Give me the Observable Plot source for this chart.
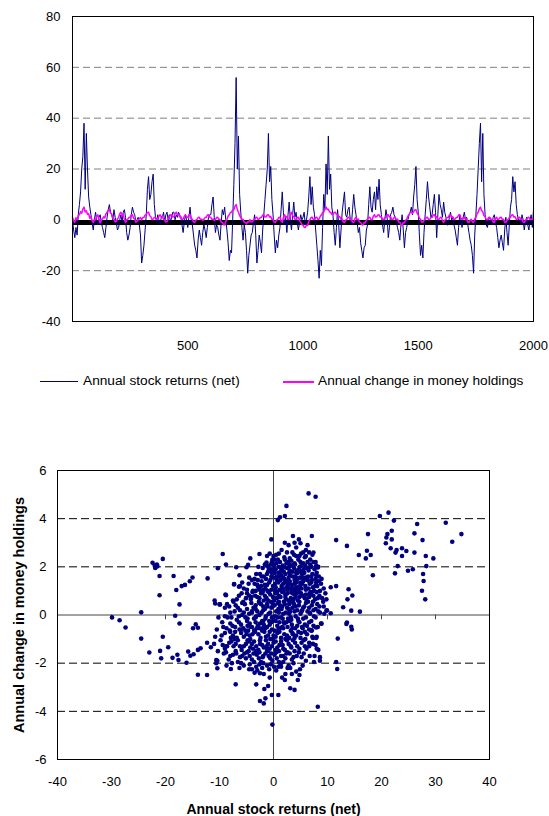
<!DOCTYPE html>
<html><head><meta charset="utf-8">
<script src="https://cdn.jsdelivr.net/npm/d3@7"></script>
<script src="https://cdn.jsdelivr.net/npm/@observablehq/plot@0.6"></script>
<style>
body{margin:0;background:#fff;font-family:Arial,"Liberation Sans",sans-serif;}
#wrap{position:relative;width:549px;height:816px;overflow:hidden;background:#fff;}
#top{position:absolute;left:0;top:0;}
#bottom{position:absolute;left:0;top:440px;}
#legend{position:absolute;left:0;top:373px;width:549px;height:16px;font-size:13.7px;color:#000;}
.sw{position:absolute;top:8px;height:0;}
.lt{position:absolute;top:0;white-space:nowrap;line-height:16px;}
</style></head>
<body>
<div id="wrap">
  <div id="top"></div>
  <div id="legend">
    <div class="sw" style="left:40px;width:38px;border-top:1.5px solid #000080"></div>
    <div class="lt" style="left:83px">Annual stock returns (net)</div>
    <div class="sw" style="left:283px;width:31px;border-top:2px solid #ff00ff"></div>
    <div class="lt" style="left:318px">Annual change in money holdings</div>
  </div>
  <div id="bottom"></div>
</div>
<script>
// ---- Top chart data (one value every 5 periods, t = 0..2000) ----
const periodStep = 5;
const stockReturns = [
  0,-4,-7,-3,-6,2,6,11,20,25,38,12,34,20,9,5,2,-1,-4,0,
  3,0,-2,1,2,-1,-3,-5,-7,-3,1,4,6,3,2,0,4,1,-1,-4,
  -3,0,2,-1,3,4,1,-5,-8,-6,-3,2,5,3,2,-1,0,1,-2,-6,
  -17,-14,-10,-4,2,12,17,8,10,15,18,6,1,-1,2,0,-2,1,1,3,
  -1,2,3,0,2,-1,1,3,3,0,2,1,3,2,1,-2,-5,-1,2,0,
  -3,1,5,0,-2,-6,-10,-12,-15,-8,-4,-7,-10,-5,-2,-4,-7,-3,1,2,
  2,6,9,1,-5,-2,-3,-6,-8,-1,4,2,5,0,-4,-9,-16,-12,-13,0,
  14,30,56,20,33,10,3,-3,-8,-2,-5,-12,-21,-14,-10,-6,-5,-1,2,-6,
  -17,-12,-6,-9,-13,-4,2,8,14,20,34,15,21,8,2,-6,-13,-8,-11,-6,
  -3,4,11,3,-2,1,-5,2,7,0,-4,2,7,1,3,-1,-4,-1,2,0,
  1,3,-2,0,3,9,17,6,13,5,2,-4,-10,-16,-23,-12,-18,-3,10,4,
  22,10,33,12,18,5,2,-5,-10,-3,4,-2,-11,-4,3,7,11,2,1,4,
  5,0,-2,4,10,5,2,-1,-5,-3,-9,-12,-15,-11,-10,-4,-2,6,13,5,
  3,8,11,4,13,8,16,6,2,-2,-5,0,4,1,-7,-3,2,3,5,2,
  1,-1,-3,-5,-8,-2,2,-4,-11,-5,-3,0,2,3,5,2,9,14,21,8,
  3,-6,-14,-10,-15,-5,2,8,15,9,5,1,2,6,10,3,-7,2,10,6,
  4,1,7,3,1,-2,-2,1,3,0,1,-2,-4,-7,-10,-3,2,0,-3,1,
  3,0,1,-2,-5,-8,-10,-14,-21,-6,2,10,20,30,38,15,34,10,2,-2,
  -3,0,1,-1,-2,1,2,-1,-3,-7,-11,-8,-6,-9,-12,-4,1,-5,-10,-2,
  5,8,17,11,15,6,2,0,0,-2,2,0,-4,-1,1,-2,-4,0,2,-3,
  4
];
const moneyChange = [
  1,-0.4,-1,0.8,0,1.6,2,3.2,2.6,4.2,5,3.1,3.6,2.2,2.4,0.6,1.3,-0.3,-1,0.2,
  0,1.4,2,0.1,-1.2,-0.2,0.4,1.2,0.7,2.3,3,3.8,4,2.6,2.3,0.6,0.4,-0.8,-0.6,0.3,
  1,2.4,3,1.9,2.2,0.1,-1,-0.1,0.3,0.9,1,1.9,2,0.6,0.3,-0.9,-0.6,-0.1,0.4,0.9,
  0,0.9,1,1.9,2,2.9,3,1.6,1.2,0.1,0.3,0.9,1,0.2,0.4,1.4,2,1.1,1.3,0.1,
  0,-0.9,-0.7,0.4,1,1.9,2,1.1,1.3,2.4,3,2.1,2.2,1.1,1.3,0.1,0.3,1.4,2,1.1,
  1,1.9,2,0.6,0.2,-0.9,-1,-0.1,0.2,0.9,1,0.1,0.3,-0.2,0.2,0.9,1,1.9,2,1.1,
  1,0.1,0.3,-0.2,0.1,0.9,1,0.1,0.2,-0.9,-1,-1.9,-2,-0.6,0.1,1.4,2,2.9,3,3.9,
  4,5.4,6,4.1,3,1.6,1,0.1,0.2,-0.9,-1,-1.6,-0.8,-0.9,0.1,-0.9,-0.8,-0.1,0.2,0.9,
  1,0.1,0.3,0.9,1,1.9,2,1.1,1.2,1.9,2,1.1,1.3,0.1,0.2,-0.9,-1,-0.1,0.1,0.9,
  1,-0.4,-1,0.9,2,1.1,1.3,0.1,0.2,1.9,3,1.6,1.2,0.1,0.3,0.9,1,-0.4,-1,-1.9,
  -2,-2.9,-3,-2.1,-2.2,-0.6,0.1,0.9,1,0.1,0.2,0.9,1,0.1,0.3,1.4,2,2.9,3,4.4,
  5,4.1,4.2,3.1,3,2.1,2.2,2.9,3,2.1,2.2,1.1,1.2,0.1,0.3,-0.9,-1,-0.1,0.2,0.9,
  1,0.1,0.2,-0.9,-1,0.4,1,0.1,0.3,-0.9,-1,-1.9,-2,-1.1,-1.2,-0.1,0.2,0.9,1,0.1,
  0,1.4,2,1.1,1.3,1.9,2,1.1,1.2,0.1,0.2,0.9,1,1.9,2,1.1,1.2,0.1,0.2,0.9,
  1,0.1,0.3,-0.9,-1,-1.9,-2,-1.1,-1.2,-0.1,0.2,1.4,2,2.9,3,2.6,3.2,3.9,4,2.6,
  2,0.6,0.2,-0.9,-1,-0.1,0.2,0.9,1,0.1,0.2,0.9,1,1.9,2,1.1,1.2,0.1,0.2,0.9,
  1,-0.4,-1,-0.1,0.2,0.9,1,1.9,2,1.1,1.2,0.1,0.3,0.9,1,1.9,2,0.6,0.2,0.9,
  1,0.1,0.3,-0.9,-1,-0.1,0.2,-0.9,-1,0.4,1,2.4,3,4.4,5,3.6,3.2,1.6,1.2,0.1,
  0,0.9,1,0.1,0.3,-0.9,-1,0.4,1,0.1,0.3,0.9,1,0.1,0.2,-0.9,-1,-0.1,0.2,0.9,
  1,1.9,2,1.1,1.2,0.1,0.3,0.9,1,0.1,0.2,-0.9,-1,-0.1,0.2,0.9,1,0.1,0.2,0.4,
  0
];
const topXTicks = [500, 1000, 1500, 2000];
const topYTicks = [-40, -20, 0, 20, 40, 60, 80];
const topGrid = [-20, 20, 40, 60];
const baselineLevel = [-1];

// ---- Scatter data: [annual stock return, annual change in money holdings] ----
const scatterCore = [
  [0.5,2.5],[1.5,2.7],[2.8,2.9],[3.5,2.6],[4.2,2.8],[5.5,2.6],[6.0,2.7],[2.0,2.4],[7.2,2.5],[4.8,2.45],[0.2,2.3],[3.0,2.35],[5.8,2.4],[6.8,2.3],[1.2,2.2],
  [-0.5,2.1],[0.8,2.3],[1.7,2.05],[2.4,2.15],[3.3,2.25],[4.0,2.1],[4.6,2.3],[5.2,2.05],[6.3,2.2],[7.0,2.0],[7.9,2.05],[-1.6,2.1],[-0.9,1.95],[2.9,2.0],[5.9,2.05],[8.3,2.0],[-2.8,2.0],[1.0,2.0],[3.8,1.95],
  [-3.5,1.5],[-2.5,1.7],[-1.8,1.6],[-1.0,1.8],[-0.3,1.75],[0.4,1.9],[1.0,1.6],[1.6,1.85],[2.2,1.7],[2.8,1.55],[3.5,1.8],[4.1,1.6],[4.7,1.9],[5.3,1.7],[5.9,1.55],[6.5,1.85],[7.2,1.7],[7.8,1.5],[8.4,1.6],[-4.5,1.55],[-2.0,1.95],[0.0,1.55],[2.5,1.95],[4.4,1.5],[6.1,1.95],[-1.4,1.5],[3.1,1.65],[5.6,1.5],[-2.9,1.45],[1.3,1.45],
  [-5.5,1.1],[-4.6,1.3],[-3.8,1.0],[-3.0,1.25],[-2.2,1.4],[-1.5,1.1],[-0.8,1.35],[-0.1,1.2],[0.6,1.45],[1.1,1.05],[1.8,1.3],[2.4,1.15],[3.0,1.4],[3.7,1.1],[4.3,1.35],[4.9,1.2],[5.5,1.4],[6.0,1.05],[6.7,1.3],[7.3,1.15],[7.9,1.35],[8.6,1.0],[-2.6,1.05],[0.3,1.0],[2.1,1.45],[4.0,1.0],[5.2,1.1],[6.3,1.45],[-1.1,1.0],[8.1,1.2],[-6.2,1.2],[1.5,1.2],[3.4,1.25],
  [-7.5,0.6],[-6.4,0.8],[-5.6,0.55],[-4.9,0.9],[-4.2,0.65],[-3.4,0.8],[-2.7,0.55],[-2.0,0.95],[-1.3,0.7],[-0.6,0.85],[0.1,0.6],[0.7,0.95],[1.3,0.75],[1.9,0.55],[2.6,0.9],[3.2,0.7],[3.9,0.85],[4.5,0.6],[5.1,0.9],[5.8,0.7],[6.4,0.55],[7.0,0.85],[7.7,0.65],[8.5,0.8],[9.2,0.55],[9.6,0.9],[-3.9,0.95],[-0.2,0.5],[2.3,0.65],[4.8,0.75],[6.9,0.95],[1.0,0.55],[-1.8,0.6],[3.6,0.55],[8.0,0.95],[-5.1,0.7],
  [-9.0,0.3],[-8.0,0.1],[-7.0,0.4],[-6.2,0.2],[-5.3,0.45],[-4.5,0.05],[-3.7,0.3],[-3.0,0.15],[-2.3,0.45],[-1.6,0.25],[-0.9,0.05],[-0.2,0.35],[0.5,0.15],[1.2,0.4],[1.8,0.05],[2.5,0.3],[3.1,0.15],[3.8,0.45],[4.4,0.2],[5.0,0.05],[5.7,0.35],[6.3,0.15],[7.1,0.4],[7.8,0.25],[8.6,0.1],[9.3,0.35],[-5.8,0.0],[-1.2,0.45],[0.9,0.25],[2.9,0.45],[4.7,0.4],[6.8,0.05],[-2.6,0.0],[-8.6,0.45],[3.5,0.3],
  [-9.5,-0.3],[-8.5,-0.1],[-7.6,-0.45],[-6.8,-0.2],[-6.0,-0.4],[-5.2,-0.1],[-4.4,-0.35],[-3.6,-0.15],[-2.9,-0.45],[-2.1,-0.25],[-1.4,-0.05],[-0.7,-0.4],[0.0,-0.2],[0.7,-0.45],[1.4,-0.1],[2.0,-0.35],[2.7,-0.15],[3.4,-0.4],[4.1,-0.05],[4.8,-0.3],[5.5,-0.15],[6.2,-0.45],[7.0,-0.25],[7.8,-0.1],[8.8,-0.35],[-10.2,-0.1],[-3.2,-0.05],[1.1,-0.3],[5.8,-0.4],[-0.3,-0.1],[-1.8,-0.4],[3.0,-0.25],[-4.8,-0.45],
  [-10.5,-0.6],[-9.6,-0.85],[-8.7,-0.55],[-7.9,-0.95],[-7.1,-0.7],[-6.3,-0.6],[-5.5,-0.9],[-4.7,-0.65],[-3.9,-0.8],[-3.1,-0.55],[-2.4,-0.95],[-1.7,-0.7],[-1.0,-0.85],[-0.3,-0.6],[0.4,-0.9],[1.1,-0.7],[1.8,-0.55],[2.5,-0.85],[3.2,-0.65],[3.9,-0.95],[4.6,-0.7],[5.4,-0.55],[6.2,-0.8],[7.0,-0.65],[7.9,-0.95],[-6.8,-0.95],[-2.0,-0.55],[0.9,-0.6],[3.5,-0.55],[5.9,-1.0],[-4.3,-1.0],[-0.6,-1.0],[2.2,-1.0],
  [-11.0,-1.2],[-9.8,-1.05],[-9.0,-1.4],[-8.2,-1.15],[-7.4,-1.3],[-6.6,-1.05],[-5.9,-1.45],[-5.1,-1.2],[-4.3,-1.35],[-3.6,-1.1],[-2.8,-1.45],[-2.1,-1.25],[-1.4,-1.05],[-0.7,-1.4],[0.0,-1.15],[0.7,-1.35],[1.4,-1.1],[2.1,-1.45],[2.8,-1.2],[3.6,-1.05],[4.4,-1.3],[5.2,-1.15],[6.1,-1.4],[7.3,-1.2],[-3.2,-1.5],[-1.0,-1.5],[1.0,-1.5],[3.9,-1.5],[-6.2,-1.3],[8.3,-1.45],
  [-10.4,-1.9],[-9.2,-1.6],[-8.3,-1.85],[-7.5,-1.65],[-6.6,-1.95],[-5.8,-1.7],[-4.9,-1.55],[-4.0,-1.85],[-3.1,-1.65],[-2.3,-1.95],[-1.5,-1.6],[-0.6,-1.8],[0.2,-1.65],[1.0,-1.95],[1.8,-1.7],[2.6,-1.55],[3.4,-1.85],[4.3,-1.7],[5.2,-1.75],[7.6,-1.7],[8.6,-1.75],[6.0,-1.9],[-2.0,-1.75],[-0.2,-1.9],
  [-8.7,-2.1],[-6.3,-2.2],[-4.0,-2.25],[-2.6,-2.05],[-1.2,-2.1],[-0.5,-2.05],[0.5,-2.3],[1.4,-2.15],[2.2,-2.45],[3.1,-2.2],[4.2,-2.35],[5.4,-2.1],[-3.5,-2.4],[-1.8,-2.45],[0.9,-2.15],[2.8,-2.1]
];
const scatterDense = [
  [0.3,1.3],[1.9,1.0],[2.7,1.25],[3.3,0.95],[4.6,1.05],[5.3,1.55],[6.6,0.75],[7.5,1.0],[0.6,0.7],[1.6,0.35],[2.2,0.85],[2.9,0.05],[3.7,0.65],[4.3,0.9],[5.5,0.3],[6.0,0.85],[7.3,0.55],[-0.4,0.3],[-1.0,0.6],[-1.9,0.35],[-2.6,0.7],[-3.3,0.4],[-4.0,0.15],
  [-0.8,-0.25],[-1.5,-0.55],[-2.5,-0.35],[-3.4,-0.7],[-4.2,-0.5],[-5.0,-0.8],[0.2,-0.65],[0.8,-0.1],[1.6,-0.5],[2.4,-0.3],[3.6,-0.8],[4.4,-0.45],[5.1,-0.75],[-0.1,-1.0],[-1.3,-1.3],[-2.5,-1.2],[-3.8,-1.4],[-4.6,-1.1],[-5.4,-1.6],[0.4,-1.45],[1.7,-1.25],[2.4,-1.6],[3.3,-1.35],[-0.9,-1.7],[-1.9,-2.0],[0.6,-1.8],[1.3,-2.05],[-2.7,-1.8],[-3.6,-1.95],[-4.4,-1.7],
  [1.8,1.55],[2.6,1.4],[3.9,1.45],[4.5,1.75],[5.0,1.35],[6.4,1.6],[7.0,1.35],[7.6,1.9],[0.9,1.75],[0.1,2.05],[-0.6,1.45],[-1.6,1.25],[-2.3,1.2],[-3.3,1.0],[-4.1,0.75],[3.0,1.85],[3.9,2.15],[5.0,2.2],[5.6,1.9],[6.8,2.1],[2.1,2.3],[1.4,1.95],[-0.2,2.3],[4.2,2.45],[6.0,2.45],
  [8.8,1.3],[8.5,0.35],[9.0,0.7],[9.9,0.2],[9.4,0.05],[8.2,-0.5],[8.0,-0.9],[7.3,-0.95],[6.6,-1.15],[5.8,-1.3],[6.7,-1.7],[7.8,-1.25],[-6.0,-0.6],[-7.2,-1.0],[-8.0,-0.7],[-8.8,-1.3],[-9.3,-0.5],[-10.8,-0.9],[-10.3,-1.5],[-7.7,-2.0],[-5.5,-2.1],[-6.9,-1.6]
];
const scatterCenter = [
  [1.0,2.55],[2.5,2.6],[3.8,2.5],[5.1,2.55],[0.0,2.45],[6.6,2.6],[-0.7,2.55],
  [0.5,2.15],[1.3,1.8],[2.0,2.0],[2.7,2.2],[3.5,2.05],[4.3,1.85],[5.5,2.15],[6.5,1.95],[7.4,2.2],[-0.3,1.9],[-1.2,2.05],[8.0,1.75],[3.0,2.1],[4.9,2.0],
  [-2.2,1.6],[-1.2,1.7],[-0.4,1.6],[0.6,1.6],[1.4,1.65],[2.0,1.5],[2.9,1.75],[3.6,1.6],[4.2,1.75],[4.9,1.55],[5.7,1.75],[6.3,1.45],[7.0,1.6],[7.9,1.65],[8.9,1.5],[-3.2,1.7],[-4.0,1.45],[0.2,1.75],[1.9,1.8],[5.2,1.8],
  [-4.9,1.05],[-3.5,1.3],[-2.8,1.15],[-1.9,1.05],[-1.2,1.25],[-0.4,1.05],[0.4,1.15],[0.9,1.35],[1.7,1.1],[2.3,1.35],[3.1,1.1],[3.9,1.3],[4.6,1.15],[5.3,1.3],[5.9,1.2],[6.5,1.1],[7.1,1.45],[7.7,1.2],[8.4,1.4],[9.3,1.1],[-5.8,1.35],[2.6,1.05],[4.2,1.15],
  [-6.8,0.65],[-5.9,0.9],[-4.5,0.8],[-3.0,0.75],[-2.3,0.9],[-1.6,0.8],[-0.9,0.95],[-0.1,0.75],[0.4,0.9],[1.0,0.8],[1.6,0.95],[2.2,0.75],[2.8,0.6],[3.5,0.9],[4.1,0.75],[4.7,0.95],[5.4,0.8],[6.1,0.65],[6.7,0.9],[7.4,0.8],[8.2,0.7],[9.8,0.65],
  [-8.2,0.35],[-7.4,0.55],[-6.6,0.3],[-5.8,0.5],[-4.9,0.25],[-4.1,0.5],[-3.3,0.25],[-2.6,0.5],[-1.9,0.2],[-1.1,0.35],[-0.5,0.55],[0.2,0.4],[0.8,0.5],[1.5,0.25],[2.1,0.45],[2.8,0.25],[3.4,0.55],[4.1,0.35],[4.8,0.55],[5.3,0.2],[6.0,0.5],[6.6,0.3],[7.4,0.2],[8.1,0.45],
  [-9.0,-0.05],[-7.8,-0.1],[-7.2,0.15],[-6.4,-0.05],[-5.5,0.1],[-4.8,-0.15],[-4.0,0.1],[-3.3,-0.1],[-2.2,0.1],[-1.5,-0.15],[-0.6,0.1],[0.3,-0.05],[1.0,0.1],[1.7,-0.15],[2.3,0.1],[3.2,-0.1],[3.9,0.15],[4.5,-0.15],[5.2,0.15],[6.0,-0.1],[6.7,0.1],[7.5,-0.05],[8.3,0.15],
  [-8.0,-0.35],[-7.1,-0.5],[-6.4,-0.3],[-5.6,-0.55],[-4.9,-0.25],[-4.0,-0.5],[-3.3,-0.3],[-2.6,-0.55],[-1.9,-0.25],[-1.2,-0.5],[-0.4,-0.3],[0.4,-0.25],[1.2,-0.55],[1.9,-0.3],[2.6,-0.5],[3.3,-0.2],[4.0,-0.55],[4.6,-0.25],[5.3,-0.5],[6.6,-0.3],[7.4,-0.45],
  [-9.0,-0.75],[-8.1,-0.65],[-7.5,-0.85],[-6.0,-0.75],[-5.2,-0.65],[-4.4,-0.85],[-3.6,-0.65],[-2.8,-0.8],[-2.1,-0.65],[-1.4,-0.9],[-0.7,-0.7],[0.0,-0.85],[0.7,-0.75],[1.4,-0.95],[2.0,-0.8],[2.9,-0.95],[3.5,-0.75],[4.2,-0.85],[5.0,-0.95],[5.8,-0.7],[6.6,-0.6],
  [-9.4,-1.25],[-8.6,-1.3],[-7.8,-1.1],[-7.0,-1.2],[-5.5,-1.3],[-4.8,-1.05],[-4.0,-1.2],[-3.2,-1.3],[-2.5,-1.05],[-1.8,-1.35],[-1.0,-1.2],[-0.3,-1.3],[0.4,-1.1],[1.1,-1.25],[1.8,-1.4],[2.5,-1.05],[3.2,-1.3],[4.0,-1.15],[4.8,-1.4],[5.6,-1.05],[6.6,-1.3],
  [-8.8,-1.55],[-8.0,-1.7],[-7.0,-1.5],[-6.2,-1.75],[-5.1,-1.8],[-4.6,-1.5],[-3.7,-1.6],[-2.6,-1.55],[-1.9,-1.7],[-1.2,-1.45],[-0.4,-1.6],[0.5,-1.55],[1.4,-1.7],[2.2,-1.8],[3.0,-1.6],[3.7,-1.75],[4.7,-1.55],[5.6,-1.6],
  [-6.0,-2.0],[-4.4,-2.05],[-3.2,-2.15],[-2.1,-2.2],[-0.8,-2.25],[0.1,-2.15],[1.8,-1.95],[2.6,-2.2],[3.7,-2.0],[4.9,-2.25]
];
const scatterOuter = [
  [-29.9,-0.1],[-28.5,-0.22],[-27.4,-0.52],[-24.5,0.11],[-24.5,-0.98],[-23.0,-1.56],
  [-22.4,2.17],[-22.0,2.05],[-21.6,2.1],[-21.9,1.95],[-21.5,2.02],[-20.5,2.33],
  [-21.1,1.62],[-21.1,0.82],[-20.5,-0.9],[-21.0,-1.49],[-20.8,-1.8],[-19.5,-1.34],
  [-18.5,1.62],[-18.7,-1.78],[-18.2,-0.03],[-18.0,1.04],[-17.8,-1.65],[-17.6,-1.87],
  [-17.4,0.44],[-17.4,-0.35],[-17.0,1.2],[-16.4,1.25],[-15.5,1.4],[-15.0,1.56],
  [-16.1,-1.98],[-15.8,-1.52],[-15.4,-1.69],[-14.9,-0.55],[-14.4,-0.39],[-14.0,-0.53],
  [-14.8,-1.63],[-14.0,-1.45],[-13.5,-1.38],[-14.0,-2.48],[-12.3,-2.49],[-12.2,1.52],
  [-12.3,-1.15],[-11.6,-1.34],[-10.8,0.48],[-10.9,0.6],[-10.3,1.94],[-9.4,2.53],
  [-8.8,2.1],[-8.8,0.82],[-9.9,0.44],[-10.6,-1.87],[-10.6,-2.0],[-10.4,-2.21],
  [-7.9,-2.24],[-7.0,-2.88],[-7.3,1.27],[-6.3,1.65],[-5.0,1.98],[-4.7,2.08],
  [-4.3,2.35],[-2.6,2.53],[-3.2,-2.88],[-2.5,-3.57],[-1.8,-3.67],[-1.7,-3.07],
  [-1.5,-3.46],[-2.5,-2.42],[-0.3,-3.32],[-0.2,-4.55],[0.9,-3.32],[2.1,-2.7],
  [3.1,-3.04],[3.9,-3.11],[4.5,-2.7],[4.8,-2.49],[8.2,-3.81],[-0.4,3.14],
  [0.8,3.94],[1.2,4.06],[2.1,4.11],[2.4,4.53],[6.5,5.05],[7.8,4.91],
  [3.6,3.28],[3.9,3.0],[4.7,3.14],[5.0,2.98],[7.1,3.28],[6.3,2.9],[2.1,3.0],
  [11.6,3.11],[13.6,2.87],[15.8,2.49],[17.5,3.36],[17.3,2.67],[17.1,2.35],[18.0,2.49],
  [18.4,1.65],[19.7,4.11],[21.3,4.25],[22.3,3.92],[21.9,3.5],[20.9,3.22],[21.1,3.36],
  [21.9,3.14],[20.8,2.98],[21.7,2.77],[22.8,2.7],[22.6,2.59],[23.8,2.77],[24.6,2.66],
  [23.8,2.45],[23.0,2.03],[22.5,1.73],[24.9,1.84],[25.8,1.9],[26.1,3.39],[26.6,3.78],
  [26.1,2.59],[27.6,3.11],[28.2,2.45],[29.6,2.35],[28.3,2.03],[27.7,1.7],[27.8,1.41],
  [27.5,1.01],[28.1,0.65],[31.9,3.83],[33.1,3.04],[34.8,3.36],
  [10.6,1.15],[11.6,1.2],[13.9,1.07],[13.7,0.65],[14.6,0.81],[12.9,0.32],[14.4,0.18],
  [16.0,0.14],[10.6,0.07],[9.8,0.18],[13.6,-0.31],[13.5,-0.37],[14.4,-0.49],[14.5,-0.6],
  [11.9,-0.98],[11.6,-1.95],[11.8,-2.24],[7.4,2.59],[7.8,2.2],[8.2,1.97],
  [7.1,-0.64],[7.9,-0.52],[8.9,-0.36],[7.2,-0.9],[8.6,-1.9],[8.0,-1.4],[7.5,-1.95],
  [-1.3,2.18],[-0.3,2.2],[-7.3,1.29],[-6.4,1.17],[-8.9,0.85],[-10.0,0.44],[-6.9,1.98],
  [-1.2,2.45],[-3.0,-2.3],[-4.5,-2.25],[-0.7,-2.6],[1.6,-2.6],[3.4,-2.45],[-1.0,-2.95]
];
const scatterXTicks = [-40, -30, -20, -10, 0, 10, 20, 30, 40];
const scatterYTicks = [-6, -4, -2, 0, 2, 4, 6];
const scatterGrid = [-4, -2, 2, 4];
const xLabel = "Annual stock returns (net)";
const yLabel = "Annual change in money holdings";

const font = 'Arial, "Liberation Sans", sans-serif';
const fmt = d => String(d);

const topData = stockReturns.map((v, i) => ({t: i * periodStep, stock: v, money: moneyChange[i]}));

const topChart = Plot.plot({
  width: 549, height: 355,
  marginTop: 16, marginBottom: 34, marginLeft: 72, marginRight: 16,
  style: {fontSize: "13px", fontFamily: font, color: "#000", background: "transparent", overflow: "visible"},
  x: {domain: [0, 2000], ticks: topXTicks, tickSize: 0, tickPadding: 19, tickFormat: fmt, label: null},
  y: {domain: [-40, 80], ticks: topYTicks, tickSize: 0, tickPadding: 12, tickFormat: fmt, label: null},
  marks: [
    Plot.ruleY(topGrid, {stroke: "#808080", strokeDasharray: "7,4", strokeWidth: 1}),
    Plot.ruleY(baselineLevel, {stroke: "#000", strokeWidth: 5}),
    Plot.line(topData, {x: "t", y: "stock", stroke: "#000080", strokeWidth: 1}),
    Plot.line(topData, {x: "t", y: "money", stroke: "#ff00ff", strokeWidth: 1.5}),
    Plot.frame({stroke: "#000"})
  ]
});
document.getElementById("top").appendChild(topChart);

const points = scatterCore.concat(scatterDense, scatterCenter, scatterOuter);

const scatter = Plot.plot({
  width: 549, height: 376,
  marginTop: 30, marginBottom: 57, marginLeft: 57, marginRight: 60,
  style: {fontSize: "13px", fontFamily: font, color: "#000", background: "transparent", overflow: "visible"},
  x: {domain: [-40, 40], ticks: scatterXTicks, tickSize: 0, tickPadding: 17, tickFormat: fmt, label: null},
  y: {domain: [-6, 6], ticks: scatterYTicks, tickSize: 0, tickPadding: 11, tickFormat: fmt, label: null},
  marks: [
    Plot.ruleY(scatterGrid, {stroke: "#000", strokeDasharray: "8,4", strokeWidth: 1}),
    Plot.ruleY([0], {stroke: "#444"}),
    Plot.ruleX([0], {stroke: "#444"}),
    Plot.ruleX(scatterXTicks, {x: d => d, y1: 0, y2: -0.2, stroke: "#444"}),
    Plot.ruleY(scatterYTicks, {y: d => d, x1: 0, x2: -1, stroke: "#444"}),
    Plot.dot(points, {x: d => d[0], y: d => d[1], r: 2.3, fill: "#000080", stroke: "none"}),
    Plot.frame({stroke: "#000"}),
    Plot.text([yLabel], {text: d => d, frameAnchor: "left", dx: -38, rotate: -90, textAnchor: "middle", lineAnchor: "middle", fontWeight: "bold", fontSize: 14.5}),
    Plot.text([xLabel], {text: d => d, frameAnchor: "bottom", dy: 50, textAnchor: "middle", lineAnchor: "middle", fontWeight: "bold", fontSize: 14})
  ]
});
document.getElementById("bottom").appendChild(scatter);
</script>
</body></html>
